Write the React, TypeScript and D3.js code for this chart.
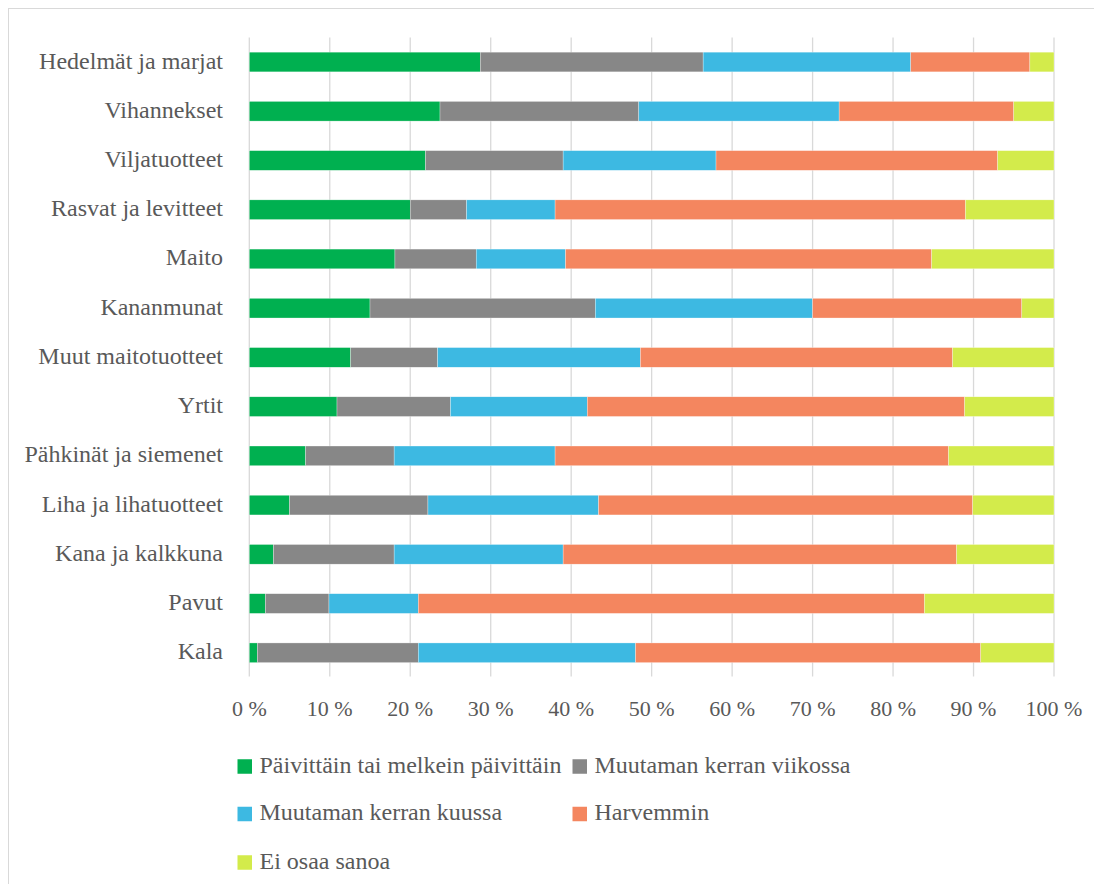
import React from "react";
import * as d3 from "d3";

const categories = [
  "Hedelmät ja marjat",
  "Vihannekset",
  "Viljatuotteet",
  "Rasvat ja levitteet",
  "Maito",
  "Kananmunat",
  "Muut maitotuotteet",
  "Yrtit",
  "Pähkinät ja siemenet",
  "Liha ja lihatuotteet",
  "Kana ja kalkkuna",
  "Pavut",
  "Kala",
];

const seriesNames = [
  "Päivittäin tai melkein päivittäin",
  "Muutaman kerran viikossa",
  "Muutaman kerran kuussa",
  "Harvemmin",
  "Ei osaa sanoa",
];

const daily = [28.7, 23.7, 21.9, 20, 18.1, 15, 12.6, 10.9, 7, 5, 3, 2, 1];
const weekly = [27.7, 24.7, 17.1, 7, 10.1, 28, 10.8, 14.1, 11, 17.2, 15, 7.9, 20];
const monthly = [25.8, 24.9, 19, 11, 11.1, 27, 25.2, 17, 20, 21.2, 21, 11.1, 27];
const rarely = [14.8, 21.7, 35, 51, 45.5, 26, 38.8, 46.9, 48.9, 46.5, 48.9, 62.9, 42.9];
const dontKnow = [3, 5, 7, 11, 15.2, 4, 12.6, 11.1, 13.1, 10.1, 12.1, 16.1, 9.1];

const tickValues = [0, 10, 20, 30, 40, 50, 60, 70, 80, 90, 100];
const tickLabels = ["0 %", "10 %", "20 %", "30 %", "40 %", "50 %", "60 %", "70 %", "80 %", "90 %", "100 %"];

const colors = ["#00B050", "#878787", "#3DB9E2", "#F4865F", "#D3EB4B"];

const FONT = "Liberation Serif";
const TEXT = "#595959";
const GRID = "#D9D9D9";

export default function App() {
  const keys = ["d", "w", "m", "r", "n"];
  const rows = categories.map((c, i) => ({
    cat: c,
    d: daily[i],
    w: weekly[i],
    m: monthly[i],
    r: rarely[i],
    n: dontKnow[i],
  }));
  const stacked = d3.stack<any>().keys(keys)(rows);

  const x = d3.scaleLinear().domain([0, 100]).range([249.3, 1054]);
  const y = d3
    .scaleBand()
    .domain(categories)
    .range([37.4, 677.4])
    .paddingInner(0.6)
    .paddingOuter(0.3);
  const bw = y.bandwidth();

  const legendPos = [
    { x: 237.5, y: 766.5 },
    { x: 572.5, y: 766.5 },
    { x: 237.5, y: 814 },
    { x: 572.5, y: 814 },
    { x: 237.5, y: 862.5 },
  ];

  return (
    <svg width={1094} height={876} style={{ display: "block" }}>
      <g transform="translate(-8,-8)">
        <rect x={0} y={0} width={1200} height={1000} fill="#fff" />
        <rect x={8.5} y={8.5} width={1200} height={1000} fill="#fff" stroke={GRID} strokeWidth={1} />
        {tickValues.map((t) => (
          <line key={t} x1={x(t)} x2={x(t)} y1={37.4} y2={676.5} stroke={GRID} strokeWidth={1.3} />
        ))}
        {stacked.map((s, si) => (
          <g key={s.key} fill={colors[si]}>
            {s.map((seg, i) => (
              <rect
                key={i}
                x={x(seg[0])}
                y={y(categories[i])}
                width={Math.max(0, x(seg[1]) - x(seg[0]))}
                height={bw}
                stroke="#fff"
                strokeWidth={0.5}
                strokeOpacity={0.6}
              />
            ))}
          </g>
        ))}
        {categories.map((c) => (
          <text
            key={c}
            x={223}
            y={(y(c) as number) + bw / 2 + 6.5}
            textAnchor="end"
            style={{ fontFamily: FONT }}
            fontSize={24}
            fill={TEXT}
          >
            {c}
          </text>
        ))}
        {tickValues.map((t, i) => (
          <text
            key={t}
            x={x(t)}
            y={716}
            textAnchor="middle"
            style={{ fontFamily: FONT }}
            fontSize={22}
            fill={TEXT}
          >
            {tickLabels[i]}
          </text>
        ))}
        {seriesNames.map((n, i) => (
          <g key={n}>
            <rect
              x={legendPos[i].x}
              y={legendPos[i].y - 7.25}
              width={14.5}
              height={14.5}
              fill={colors[i]}
            />
            <text
              x={legendPos[i].x + 22}
              y={legendPos[i].y + 6}
              style={{ fontFamily: FONT }}
              fontSize={24}
              fill={TEXT}
            >
              {n}
            </text>
          </g>
        ))}
      </g>
    </svg>
  );
}
